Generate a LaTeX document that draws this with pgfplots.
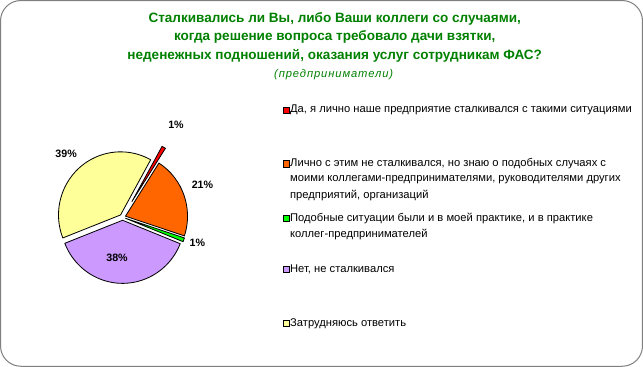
\documentclass[border=0pt]{standalone}
\usepackage{fontspec}
\setmainfont{Liberation Sans}
\usepackage{pgfplots}
\usepackage{pgfplotstable}
\pgfplotsset{compat=1.18}
\definecolor{cred}{HTML}{FF0000}
\definecolor{corange}{HTML}{FF6600}
\definecolor{cgreen}{HTML}{00FF00}
\definecolor{cpurple}{HTML}{CC99FF}
\definecolor{cyellow}{HTML}{FFFF99}
\definecolor{ctitle}{HTML}{008000}
\definecolor{cframe}{HTML}{808080}
\begin{document}
\begin{tikzpicture}
\pgfplotstableread{
val col expl lx ly
1 cred 18 178 128
21 corange 3 204 187
1 cgreen 3 199 244
38 cpurple 3 120 258.5
39 cyellow 3 70 156.5
}\piedata
\def\rx{61}
\def\ry{62}
\def\cum{0}
\foreach \i in {0,...,4}{
  \pgfplotstablegetelem{\i}{val}\of\piedata \let\v\pgfplotsretval
  \pgfmathsetmacro\s{61-3.6*\cum}
  \pgfmathsetmacro\e{\s-3.6*\v}
  \pgfmathsetmacro\m{(\s+\e)/2}
  \pgfmathsetmacro\sx{\rx*cos(\s)}
  \pgfmathsetmacro\sy{\ry*sin(\s)}
  \expandafter\xdef\csname ps\i\endcsname{\s}
  \expandafter\xdef\csname pe\i\endcsname{\e}
  \expandafter\xdef\csname pm\i\endcsname{\m}
  \expandafter\xdef\csname psx\i\endcsname{\sx}
  \expandafter\xdef\csname psy\i\endcsname{\sy}
  \expandafter\xdef\csname pv\i\endcsname{\v}
  \pgfplotstablegetelem{\i}{col}\of\piedata
  \expandafter\xdef\csname pc\i\endcsname{\pgfplotsretval}
  \pgfplotstablegetelem{\i}{expl}\of\piedata
  \expandafter\xdef\csname pd\i\endcsname{\pgfplotsretval}
  \pgfplotstablegetelem{\i}{lx}\of\piedata
  \expandafter\xdef\csname px\i\endcsname{\pgfplotsretval}
  \pgfplotstablegetelem{\i}{ly}\of\piedata
  \expandafter\xdef\csname py\i\endcsname{\pgfplotsretval}
  \pgfmathsetmacro\newcum{\cum+\v}
  \xdef\cum{\newcum}
}
\begin{axis}[
  scale only axis, width=643bp, height=370bp,
  xmin=0, xmax=643, ymin=0, ymax=370, y dir=reverse,
  hide axis, clip=false]
% frame
\draw[cframe, line width=1bp, rounded corners=20bp] (axis cs:5.5,5.5) rectangle (axis cs:636.5,365);
% title
\node[align=center, text=ctitle, inner sep=0pt, font=\fontsize{13.3bp}{18.3bp}\selectfont\bfseries, anchor=center]
  at (axis cs:334,41.5) {Сталкивались ли Вы, либо Ваши коллеги со случаями,\\когда решение вопроса требовало дачи взятки,\\неденежных подношений, оказания услуг сотрудникам ФАС?};
\node[text=ctitle, inner sep=0pt, font=\fontsize{11bp}{12bp}\selectfont\itshape\addfontfeature{LetterSpace=8}] at (axis cs:333,78) {(предприниматели)};
% pie
\pgfplotsinvokeforeach{0,...,4}{
  \filldraw[fill=\csname pc#1\endcsname, draw=black, line width=0.8bp, line join=round,
    shift={(\csname pm#1\endcsname:\csname pd#1\endcsname bp)}]
    (axis cs:125.5,218.5) -- ++(\csname psx#1\endcsname bp,\csname psy#1\endcsname bp)
    arc[start angle=\csname ps#1\endcsname, end angle=\csname pe#1\endcsname, x radius=\rx bp, y radius=\ry bp] -- cycle;
  \node[font=\fontsize{10.5bp}{12bp}\selectfont\bfseries] at (axis cs:\csname px#1\endcsname,\csname py#1\endcsname)
    {\csname pv#1\endcsname\%};
}
% legend
\filldraw[fill=cred, draw=black, line width=0.6bp] (axis cs:283,110) rectangle (axis cs:289,116);
\filldraw[fill=corange, draw=black, line width=0.6bp] (axis cs:283,163) rectangle (axis cs:289,169);
\filldraw[fill=cgreen, draw=black, line width=0.6bp] (axis cs:283,217) rectangle (axis cs:289,223);
\filldraw[fill=cpurple, draw=black, line width=0.6bp] (axis cs:283,267) rectangle (axis cs:289,273);
\filldraw[fill=cyellow, draw=black, line width=0.6bp] (axis cs:283,320) rectangle (axis cs:289,326);
\tikzset{lg/.style={anchor=west, inner sep=0pt, font=\fontsize{11bp}{16bp}\selectfont}}
\node[lg] at (axis cs:290,113) {Да, я лично наше предприятие сталкивался с такими ситуациями};
\node[lg] at (axis cs:290,166) {Лично с этим не сталкивался, но знаю о подобных случаях с};
\node[lg] at (axis cs:290,181.5) {моими коллегами-предпринимателями, руководителями других};
\node[lg] at (axis cs:290,197) {предприятий, организаций};
\node[lg] at (axis cs:290,220) {Подобные ситуации были и в моей практике, и в практике};
\node[lg] at (axis cs:290,235.5) {коллег-предпринимателей};
\node[lg] at (axis cs:290,270) {Нет, не сталкивался};
\node[lg] at (axis cs:290,323) {Затрудняюсь ответить};
\end{axis}
\end{tikzpicture}
\end{document}
